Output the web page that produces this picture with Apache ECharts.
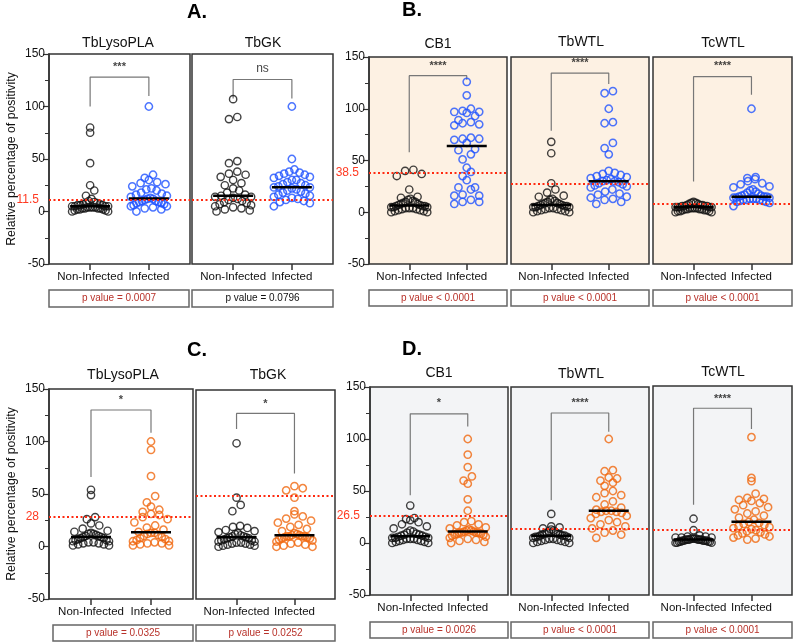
<!DOCTYPE html>
<html><head><meta charset="utf-8">
<script src="https://cdn.jsdelivr.net/npm/echarts@6/dist/echarts.min.js"></script>
<style>html,body{margin:0;padding:0;background:#fff}#c{width:793px;height:644px}</style>
</head><body><div id="c"></div>
<script>
// ---------- DATA ----------
const groups = ['Non-Infected', 'Infected'];
const panelNames = ['TbLysoPLA','TbGK','CB1','TbWTL','TcWTL','TbLysoPLA','TbGK','CB1','TbWTL','TcWTL'];
const panelLetters = ['A.','B.','C.','D.'];
const sigLabels = ['***','ns','****','****','****','*','*','*','****','****'];
const pValueTexts = ['p value = 0.0007','p value = 0.0796','p value < 0.0001','p value < 0.0001','p value < 0.0001',
                     'p value = 0.0325','p value = 0.0252','p value = 0.0026','p value < 0.0001','p value < 0.0001'];
const pSignificant = [true,false,true,true,true,true,true,true,true,true];
const thresholds = [11.5,11.5,38.5,27.5,8.5,28,49,26.5,14,12];
const thresholdLabelShown = [true,false,true,false,false,true,false,true,false,false];
const bracketLeft  = [100,107.6,58,78.7,29.6,66.3,112.6,46,41.2,36.4];
const bracketTop   = [128,125.7,132,134.5,131,130,127.6,124.2,125,128.7];
const bracketRight = [110,107.6,128,124,113.6,108.4,70,112,107,108.8];
const sigY = [138,136,141,144,141,139.7,137,134.5,134.5,137.7];

const A_TbLysoPLA_NI  = [80,75,46,25,20,15,12,10,9,8,8,7,7,6,6,6,5,5,5,5,4,4,4,4,3,3,3,3,2,2,2,1,1,0,0];
const A_TbLysoPLA_Inf = [100,35,32,30,28,27,26,24,22,21,20,18,17,16,15,14,13,12,12,11,10,10,9,9,8,8,7,6,5,5,4,3,2,0];
const A_TbGK_NI       = [107,90,88,48,46,38,36,35,33,30,27,25,22,20,18,16,15,14,14,13,12,11,10,9,8,7,6,5,4,3,2,1,0];
const A_TbGK_Inf      = [100,50,40,38,37,36,35,34,33,32,30,30,28,27,26,25,24,23,23,22,21,20,19,18,17,16,15,14,13,12,11,10,9,8,5];
const B_CB1_NI        = [41,40,37,35,22,15,14,13,12,11,10,10,9,8,8,7,7,6,6,6,5,5,5,4,4,4,3,3,2,2,1,1,0,0];
const B_CB1_Inf       = [126,113,100,98,97,97,96,93,89,87,86,85,84,72,71,71,70,67,61,60,56,51,43,39,35,31,24,24,22,17,16,16,12,10,10,8];
const B_TbWTL_NI      = [68,57,28,22,19,16,15,13,12,11,10,9,9,8,8,7,7,6,6,6,5,5,5,4,4,3,3,2,2,1,1,0,0];
const B_TbWTL_Inf     = [117,115,100,87,86,67,62,56,40,38,37,36,35,34,33,32,31,30,30,29,28,27,26,25,24,22,20,18,17,15,14,13,12,10,8];
const B_TcWTL_NI      = [10,9,9,8,8,7,7,7,6,6,6,6,5,5,5,5,5,4,4,4,4,3,3,3,3,2,2,2,1,1,1,0,0];
const B_TcWTL_Inf     = [100,34,33,32,30,28,27,25,24,22,21,20,19,18,17,16,16,15,15,15,14,14,14,13,13,13,12,12,12,11,11,10,10,9,6];
const C_TbLysoPLA_NI  = [54,49,28,26,22,20,17,15,14,13,12,12,11,10,10,9,9,8,8,7,6,6,5,5,4,4,3,3,2,2,1,1];
const C_TbLysoPLA_Inf = [100,92,67,48,42,38,35,33,31,30,28,26,23,20,18,16,14,13,13,12,11,10,9,8,7,6,5,5,4,3,3,2,1,1];
const C_TbGK_NI       = [99,47,40,34,20,19,18,16,15,14,13,12,11,10,10,9,9,8,8,7,6,6,5,5,4,4,3,3,2,2,1,1,0];
const C_TbGK_Inf      = [58,56,54,47,34,31,29,27,25,23,21,19,17,15,13,12,11,11,10,10,10,10,9,9,8,8,7,6,5,4,3,2,1,0,0];
const D_CB1_NI        = [36,24,23,22,20,18,16,14,12,11,10,9,8,8,7,7,6,6,5,5,5,4,4,4,3,3,2,2,1,1,0,0];
const D_CB1_Inf       = [100,85,73,64,60,57,42,31,21,20,18,17,15,14,13,12,12,11,11,10,10,10,10,9,9,8,8,7,6,5,4,3,2,1,0];
const D_TbWTL_NI      = [28,16,15,14,13,12,11,10,10,9,9,8,8,7,7,7,6,6,6,5,5,4,4,3,3,2,2,1,1,0,0];
const D_TbWTL_Inf     = [100,70,69,63,62,60,58,55,50,48,46,44,40,37,34,32,31,31,30,30,29,28,26,24,22,20,18,16,14,12,10,8,5];
const D_TcWTL_NI      = [23,12,7,6,6,5,5,5,4,4,4,4,3,3,3,3,3,3,2,2,2,2,2,1,1,1,1,0,0,0];
const D_TcWTL_Inf     = [101,62,59,47,43,42,41,40,38,36,34,32,30,28,26,24,22,20,19,18,17,16,15,14,13,12,11,10,9,8,7,6,5,4,3];

const nonInfected = [A_TbLysoPLA_NI,A_TbGK_NI,B_CB1_NI,B_TbWTL_NI,B_TcWTL_NI,C_TbLysoPLA_NI,C_TbGK_NI,D_CB1_NI,D_TbWTL_NI,D_TcWTL_NI];
const infected = [A_TbLysoPLA_Inf,A_TbGK_Inf,B_CB1_Inf,B_TbWTL_Inf,B_TcWTL_Inf,C_TbLysoPLA_Inf,C_TbGK_Inf,D_CB1_Inf,D_TbWTL_Inf,D_TcWTL_Inf];

// ---------- LAYOUT / STYLE ----------
const gridBoxes = [
  [49,54,141,210],[192,54,141,210],
  [369,57,138,207],[511,57,138,207],[653,57,139,207],
  [49,389,144,210],[196,390,139,209],
  [370,387,138,208],[511,387,138,208],[653,386,139,209]];
const titlePos = [[118,43],[263,43],[438,44],[581,42],[723,43],[123,375],[268,375],[439,373],[581,374],[723,372]];
const letterPos = [[197,12],[412,10],[197,350],[412,349]];
const pBoxes = [[49,290,140,17],[192,290,141,17],[369,290,138,16],[511,290,138,16],[653,290,139,16],
                [53,625,140,16],[196,625,139,16],[370,622,138,16],[511,622,138,16],[653,622,139,16]];
const firstPanel = [true,false,true,false,false,true,false,true,false,false];
const yNameShown = [true,false,false,false,false,true,false,false,false,false];
const bgColors = [null,null,'#fdf1e3','#fdf1e3','#fdf1e3',null,null,'#f3f4f6','#f3f4f6','#f3f4f6'];
const infColors = ['#1f52ff','#1f52ff','#1f52ff','#1f52ff','#1f52ff','#f0680f','#f0680f','#f0680f','#f0680f','#f0680f'];
const XMIN = -0.7, XMAX = 1.7, YMIN = -50, YMAX = 150;
const FONT = 'Liberation Sans, Arial, Helvetica, sans-serif';

function median(arr){ const s = arr.slice().sort((a,b)=>a-b); const n=s.length; return n%2 ? s[(n-1)/2] : (s[n/2-1]+s[n/2])/2; }

// row-based dot spreading (GraphPad-like), deterministic
function swarm(values, center, kx, ky){
  const ROW = 9.5, STEP = 8.3, HALF = 18;
  const sorted = values.slice().sort((a,b)=>a-b);
  const rows = new Map();
  sorted.forEach(v => { const r = Math.round(v*ky/ROW); if(!rows.has(r)) rows.set(r, []); rows.get(r).push(v); });
  const out = [];
  rows.forEach(list => {
    const n = list.length;
    const step = n>1 ? Math.min(STEP, 2*HALF/(n-1)) : 0;
    list.forEach((v,i) => {
      const slot = (i%2===0) ? i/2 : n-1-(i-1)/2;
      out.push([center + (slot-(n-1)/2)*step/kx, v]);
    });
  });
  return out;
}

const grid=[], xAxis=[], yAxis=[], series=[], graphic=[];
for (let i=0;i<10;i++){
  const [gl,gt,gw,gh] = gridBoxes[i];
  const kx = gw/(XMAX-XMIN), ky = gh/(YMAX-YMIN);
  grid.push({left:gl, top:gt, width:gw, height:gh, show:true, borderColor:'#333', borderWidth:1.5,
             backgroundColor: bgColors[i] || 'transparent'});
  xAxis.push({type:'value', gridIndex:i, min:XMIN, max:XMAX, position:'bottom',
    axisLine:{show:false, onZero:false}, splitLine:{show:false},
    axisTick:{show:true, customValues:[0,1], length:6, lineStyle:{color:'#333', width:1.5}},
    axisLabel:{customValues:[0,1], formatter:v=>groups[Math.round(v)], fontSize:11.5, color:'#111', margin:7, fontFamily:FONT}});
  yAxis.push({type:'value', gridIndex:i, min:YMIN, max:YMAX, interval:50, show:firstPanel[i], position:'left',
    axisLine:{show:true, onZero:false, lineStyle:{color:'#333', width:1.5}},
    axisTick:{show:true, length:6, lineStyle:{color:'#333', width:1.2}},
    minorTick:{show:true, splitNumber:2, length:4, lineStyle:{color:'#333', width:1}},
    splitLine:{show:false},
    axisLabel:{fontSize:12, color:'#111', margin:4, fontFamily:FONT},
    name: yNameShown[i] ? 'Relative percentage of positivity' : '',
    nameLocation:'middle', nameGap:31, nameTextStyle:{fontSize:12.3, color:'#111', fontFamily:FONT}});

  // dots
  series.push({type:'scatter', xAxisIndex:i, yAxisIndex:i, silent:true, symbol:'circle', symbolSize:7.3, z:3,
    data: swarm(nonInfected[i], 0, kx, ky),
    itemStyle:{color:'rgba(0,0,0,0)', borderColor:'#111', borderWidth:1.4}});
  series.push({type:'scatter', xAxisIndex:i, yAxisIndex:i, silent:true, symbol:'circle', symbolSize:7.3, z:3,
    data: swarm(infected[i], 1, kx, ky),
    itemStyle:{color:'rgba(0,0,0,0)', borderColor:infColors[i], borderWidth:1.5}});
  // medians
  const half = 20/kx;
  [[nonInfected[i],0],[infected[i],1]].forEach(([arr,c])=>{
    const m = median(arr);
    series.push({type:'line', xAxisIndex:i, yAxisIndex:i, silent:true, symbol:'none', z:4,
      data:[[c-half,m],[c+half,m]], lineStyle:{color:'#000', width:2.5}});
  });
  // bracket + threshold
  series.push({type:'line', xAxisIndex:i, yAxisIndex:i, silent:true, symbol:'none', z:2,
    data:[[0,bracketLeft[i]],[0,bracketTop[i]],[1,bracketTop[i]],[1,bracketRight[i]]],
    lineStyle:{color:'#777', width:1.2},
    markLine:{silent:true, symbol:['none','none'], z:5,
      lineStyle:{color:'#ff2a10', type:[2,2.5], width:2},
      label:{show:thresholdLabelShown[i], position:'start', distance:10, formatter:String(thresholds[i]),
             color:'#ff3a22', fontSize:12, fontFamily:FONT},
      data:[{yAxis:thresholds[i]}]}});
  // significance text
  series.push({type:'scatter', xAxisIndex:i, yAxisIndex:i, silent:true, symbolSize:1, z:6,
    itemStyle:{color:'rgba(0,0,0,0)'},
    data:[[0.5, sigY[i]]],
    label:{show:true, position:'inside', formatter:sigLabels[i], color:'#111',
           fontSize: sigLabels[i]==='ns' ? 12 : 11, fontWeight: sigLabels[i]==='ns' ? 'normal' : 'bold', fontFamily:FONT}});

  // title
  graphic.push({type:'text', x:titlePos[i][0], y:titlePos[i][1], silent:true,
    style:{text:panelNames[i], fill:'#111', font:'14px '+FONT, textAlign:'center', textVerticalAlign:'middle'}});
  // p-value box
  const [bx,by,bw,bh] = pBoxes[i];
  graphic.push({type:'rect', shape:{x:bx, y:by, width:bw, height:bh}, silent:true,
    style:{fill:'#fff', stroke:'#666', lineWidth:1.5}});
  graphic.push({type:'text', x:bx+bw/2, y:by+bh/2, silent:true,
    style:{text:pValueTexts[i], fill: pSignificant[i] ? '#b8322a' : '#111', font:'10px '+FONT, textAlign:'center', textVerticalAlign:'middle'}});
}
panelLetters.forEach((t,k)=>{
  graphic.push({type:'text', x:letterPos[k][0], y:letterPos[k][1], silent:true,
    style:{text:t, fill:'#000', font:'bold 20px '+FONT, textAlign:'center', textVerticalAlign:'middle'}});
});

const chart = echarts.init(document.getElementById('c'), null, {renderer:'canvas'});
chart.setOption({animation:false, backgroundColor:'#fff', textStyle:{fontFamily:FONT},
  grid, xAxis, yAxis, series, graphic});
</script></body></html>
